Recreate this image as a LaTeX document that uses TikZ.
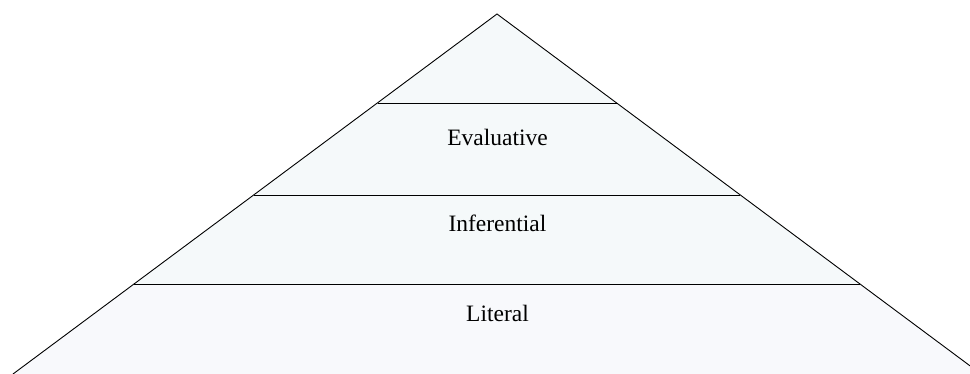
\documentclass[tikz,border=0pt]{standalone}
\usepackage{fontspec}
\setmainfont{Liberation Serif}
\newfontfamily\labelfont{Liberation Serif}
\definecolor{bandfill}{RGB}{245,249,250}
\definecolor{basefill}{RGB}{248,249,252}
\tikzset{
  layerline/.style={draw=black, line width=0.9pt},
  layerlabel/.style={anchor=base, font=\labelfont\fontsize{23.5}{28}\selectfont, text=black, inner sep=0pt}
}
\begin{document}
\begin{tikzpicture}[x=1pt,y=1pt]
\useasboundingbox (0,0) rectangle (970,374);
\clip (0,0) rectangle (970,374);
% apex and base (y measured upward: 374 - pixel row)
\coordinate (apex) at (497,360);
\coordinate (bl) at (13,0);
\coordinate (br) at (981,0);
\coordinate (l1) at (377.5,271);
\coordinate (r1) at (616.5,271);
\coordinate (l2) at (254,179);
\coordinate (r2) at (740,179);
\coordinate (l3) at (134,90);
\coordinate (r3) at (860,90);
% fills
\fill[basefill] (bl) -- (br) -- (r3) -- (l3) -- cycle;
\fill[bandfill] (l3) -- (r3) -- (apex) -- cycle;
% outline and dividers
\draw[layerline] (bl) -- (apex) -- (br);
\draw[layerline] (l1) -- (r1);
\draw[layerline] (l2) -- (r2);
\draw[layerline] (l3) -- (r3);
% labels
\node[layerlabel] (eval) at (497.5,228) {Evaluative};
\node[layerlabel] (infer) at (497.5,142) {Inferential};
\node[layerlabel] (lit) at (497.5,52.5) {Literal};
\end{tikzpicture}
\end{document}
